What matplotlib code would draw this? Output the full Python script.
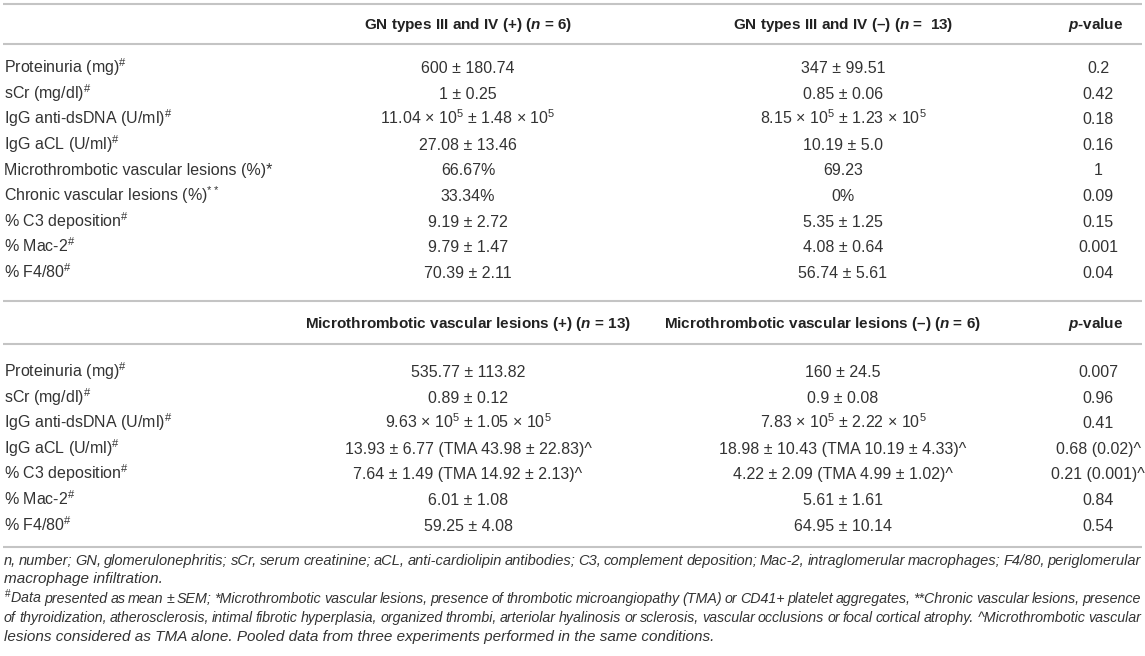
import matplotlib
matplotlib.use('Agg')
import matplotlib.pyplot as plt

#------------------------------------------------------------------------------
# Fonts
#------------------------------------------------------------------------------
plt.rcParams['font.family'] = ['Liberation Sans', 'DejaVu Sans']
plt.rcParams['mathtext.fontset'] = 'custom'
plt.rcParams['mathtext.rm'] = 'Liberation Sans'
plt.rcParams['mathtext.it'] = 'Liberation Sans:italic:bold'
plt.rcParams['mathtext.bf'] = 'Liberation Sans:bold'

#------------------------------------------------------------------------------
# Table data
#------------------------------------------------------------------------------
head1 = ['GN types III and IV (+) ($\\it{n}$ = 6)',
         'GN types III and IV (–) ($\\it{n}$ =  13)',
         '$\\it{p}$-value']
labels1 = ['Proteinuria (mg)$^{\\#}$', 'sCr (mg/dl)$^{\\#}$',
           'IgG anti-dsDNA (U/ml)$^{\\#}$', 'IgG aCL (U/ml)$^{\\#}$',
           'Microthrombotic vascular lesions (%)*',
           'Chronic vascular lesions (%)$^{**}$',
           '% C3 deposition$^{\\#}$', '% Mac-2$^{\\#}$', '% F4/80$^{\\#}$']
gn_pos = ['600 ± 180.74', '1 ± 0.25',
          '11.04 × 10$^{5}$ ± 1.48 × 10$^{5}$', '27.08 ± 13.46',
          '66.67%', '33.34%', '9.19 ± 2.72', '9.79 ± 1.47', '70.39 ± 2.11']
gn_neg = ['347 ± 99.51', '0.85 ± 0.06',
          '8.15 × 10$^{5}$ ± 1.23 × 10$^{5}$', '10.19 ± 5.0',
          '69.23', '0%', '5.35 ± 1.25', '4.08 ± 0.64', '56.74 ± 5.61']
gn_p = ['0.2', '0.42', '0.18', '0.16', '1', '0.09', '0.15', '0.001', '0.04']

head2 = ['Microthrombotic vascular lesions (+) ($\\it{n}$ = 13)',
         'Microthrombotic vascular lesions (–) ($\\it{n}$ = 6)',
         '$\\it{p}$-value']
labels2 = ['Proteinuria (mg)$^{\\#}$', 'sCr (mg/dl)$^{\\#}$',
           'IgG anti-dsDNA (U/ml)$^{\\#}$', 'IgG aCL (U/ml)$^{\\#}$',
           '% C3 deposition$^{\\#}$', '% Mac-2$^{\\#}$', '% F4/80$^{\\#}$']
mt_pos = ['535.77 ± 113.82', '0.89 ± 0.12',
          '9.63 × 10$^{5}$ ± 1.05 × 10$^{5}$',
          '13.93 ± 6.77 (TMA 43.98 ± 22.83)^',
          '7.64 ± 1.49 (TMA 14.92 ± 2.13)^', '6.01 ± 1.08', '59.25 ± 4.08']
mt_neg = ['160 ± 24.5', '0.9 ± 0.08',
          '7.83 × 10$^{5}$ ± 2.22 × 10$^{5}$',
          '18.98 ± 10.43 (TMA 10.19 ± 4.33)^',
          '4.22 ± 2.09 (TMA 4.99 ± 1.02)^', '5.61 ± 1.61', '64.95 ± 10.14']
mt_p = ['0.007', '0.96', '0.41', '0.68 (0.02)^', '0.21 (0.001)^', '0.84', '0.54']

notes = ['n, number; GN, glomerulonephritis; sCr, serum creatinine; aCL, anti-cardiolipin antibodies; C3, complement deposition; Mac-2, intraglomerular macrophages; F4/80, periglomerular',
         'macrophage infiltration.',
         '$^{\\#}$Data presented as mean ± SEM; *Microthrombotic vascular lesions, presence of thrombotic microangiopathy (TMA) or CD41+ platelet aggregates, **Chronic vascular lesions, presence',
         'of thyroidization, atherosclerosis, intimal fibrotic hyperplasia, organized thrombi, arteriolar hyalinosis or sclerosis, vascular occlusions or focal cortical atrophy. ^Microthrombotic vascular',
         'lesions considered as TMA alone. Pooled data from three experiments performed in the same conditions.']
justify = [True, False, True, True, False]

#------------------------------------------------------------------------------
# Layout (pixel coordinates)
#------------------------------------------------------------------------------
W, H = 1145, 656
fs = 11.5
fs_head = 11
fs_note = 11
txt_col = '#333333'
line_col = '#c4c4c4'
col_x = [4, 468, 843, 1098]
row_dy = 25.6

fig = plt.figure(figsize=(W / 100, H / 100), dpi=100)
ax = fig.add_axes([0, 0, 1, 1])
ax.set_xlim(0, W)
ax.set_ylim(H, 0)
ax.axis('off')


def hline(y, lw=1.5):
    ax.plot([3, W - 3], [y, y], color=line_col, lw=lw, solid_capstyle='butt')


def block(y_head, y_line1, y_line2, y_row0, head, head_x, labels, c1, c2, c3):
    hline(y_line1)
    hline(y_line2)
    for h, hx in zip(head, head_x):
        ax.text(hx, y_head + 5, h, ha='center', va='baseline', fontsize=fs_head,
                fontweight='bold', color='#222222')
    for i, lab in enumerate(labels):
        y = y_row0 + i * row_dy + 5
        ax.text(col_x[0], y, lab, ha='left', va='baseline', fontsize=fs,
                color=txt_col)
        for x, col in zip(col_x[1:], (c1, c2, c3)):
            ax.text(x, y, col[i], ha='center', va='baseline', fontsize=fs,
                    color=txt_col)


block(24, 4, 44, 68, head1, [468, 843, 1096], labels1, gn_pos, gn_neg, gn_p)
block(323, 301, 344, 372, head2, [468, 822, 1096], labels2, mt_pos, mt_neg, mt_p)
hline(547)

# footnotes, justified like in the journal layout
renderer = fig.canvas.get_renderer()
note_y = [561, 579, 599, 618, 637]
x0, x1 = 4, W - 4
for line, y, just in zip(notes, note_y, justify):
    if not just:
        ax.text(x0, y + 4, line, ha='left', va='baseline', fontsize=fs_note,
                style='italic', color=txt_col)
        continue
    words = line.split(' ')
    size = fs_note
    while True:
        objs = [ax.text(0, y + 4, w, ha='left', va='baseline', fontsize=size,
                        style='italic', color=txt_col) for w in words]
        widths = [o.get_window_extent(renderer).width for o in objs]
        gap = (x1 - x0 - sum(widths)) / (len(words) - 1)
        if gap >= 2.5 or size < 8:
            break
        for o in objs:
            o.remove()
        size -= 0.1
    x = x0
    for o, w in zip(objs, widths):
        o.set_x(x)
        x += w + gap

fig.savefig('out.png', dpi=100)
